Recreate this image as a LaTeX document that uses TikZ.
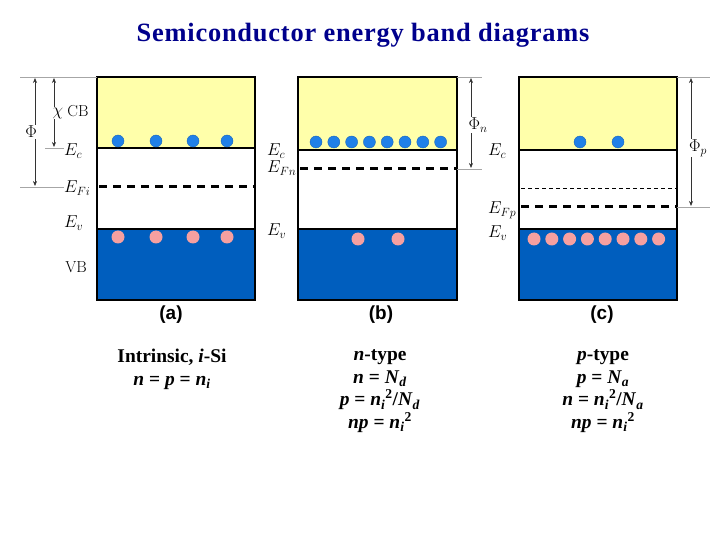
\documentclass[tikz,border=0pt]{standalone}
\usepackage{fontspec}
\newfontfamily\tnr{Liberation Serif}
\newfontfamily\tnrwide[LetterSpace=3]{Liberation Serif}
\newfontfamily\arl{Liberation Sans}
\usetikzlibrary{arrows.meta}
\definecolor{cbyellow}{RGB}{255,255,170}
\definecolor{vbblue}{RGB}{0,94,190}
\definecolor{eblue}{RGB}{32,128,232}
\definecolor{hpink}{RGB}{246,160,160}
\definecolor{titleblue}{RGB}{0,0,140}
\begin{document}
\begin{tikzpicture}[x=1bp,y=-1bp,
  cb/.style={fill=cbyellow,draw=none},
  vb/.style={fill=vbblue,draw=none},
  gap/.style={fill=white,draw=none},
  frame/.style={draw=black,line width=1.6bp},
  band/.style={draw=black,line width=1.6bp},
  fermi/.style={draw=black,line width=3bp,dash pattern=on 8bp off 6bp},
  thinfermi/.style={draw=black,line width=0.8bp,dash pattern=on 4bp off 3bp},
  guide/.style={draw=gray!70,line width=0.7bp},
  dim/.style={draw=black!80,line width=0.6bp,{Stealth[length=5bp,width=4bp]}-{Stealth[length=5bp,width=4bp]}},
  elec/.style={circle,fill=eblue,draw=eblue!80!black,line width=0.4bp,minimum size=12bp,inner sep=0pt},
  hole/.style={circle,fill=hpink,draw=none,minimum size=13bp,inner sep=0pt},
  elab/.style={font=\fontsize{17}{17}\selectfont,inner sep=0pt},
  wlab/.style={font=\fontsize{17}{17}\selectfont,fill=white,inner sep=1bp},
  rlab/.style={font=\fontsize{16}{16}\selectfont,inner sep=0pt},
  plab/.style={font=\arl\bfseries\fontsize{19}{19}\selectfont,inner sep=0pt},
  txt/.style={font=\tnr\bfseries\fontsize{19.5}{23}\selectfont,align=center,anchor=north,inner sep=0pt}
]
\useasboundingbox (0,0) rectangle (720,540);
\node[font=\tnrwide\bfseries\fontsize{26.5}{26.5}\selectfont,text=titleblue,inner sep=0pt] (title) at (363,35) {Semiconductor energy band diagrams};

% ---------- (a) ----------
\fill[cb] (97,77) rectangle (255,148);
\fill[gap] (97,148) rectangle (255,229);
\fill[vb] (97,229) rectangle (255,300);
\draw[band] (97,148) -- (255,148);
\draw[band] (97,229) -- (255,229);
\draw[fermi] (99,187) -- (255,187);
\draw[frame] (97,77) rectangle (255,300);
\foreach \x [count=\i] in {118,156,193,227}{
  \node[elec] (ea\i) at (\x,141) {};
  \node[hole] (ha\i) at (\x,237) {};
}
\coordinate (atop0) at (20,77);
\coordinate (atop1) at (97,77);
\draw[guide] (atop0) -- (atop1);
\coordinate (aec0) at (45,148);
\coordinate (aec1) at (64,148);
\draw[guide] (aec0) -- (aec1);
\coordinate (afi0) at (20,187);
\coordinate (afi1) at (64,187);
\draw[guide] (afi0) -- (afi1);
\coordinate (chiT) at (54,78);
\coordinate (chiB) at (54,147);
\draw[dim] (chiT) -- (chiB);
\coordinate (phiT) at (35,78);
\coordinate (phiB) at (35,186);
\draw[dim] (phiT) -- (phiB);
\node[wlab] (chi) at (58,113) {$\chi$};
\node[wlab] (phi) at (31,132) {$\Phi$};
\node[rlab] (CB) at (78,111) {CB};
\node[rlab] (VB) at (76,267) {VB};
\node[elab,anchor=west] (Eca) at (64,151) {$E_c$};
\node[elab,anchor=west] (Efi) at (64,188) {$E_{Fi}$};
\node[elab,anchor=west] (Eva) at (64,223) {$E_v$};
\node[plab] (la) at (171,315) {(a)};

% ---------- (b) ----------
\fill[cb] (298,77) rectangle (457,150);
\fill[gap] (298,150) rectangle (457,229);
\fill[vb] (298,229) rectangle (457,300);
\draw[band] (298,150) -- (457,150);
\draw[band] (298,229) -- (457,229);
\draw[fermi] (300,169) -- (457,169);
\draw[frame] (298,77) rectangle (457,300);
\foreach \i in {0,...,7}{
  \node[elec] (eb\i) at ({316+17.8*\i},142) {};
}
\node[hole] (hb1) at (358,239) {};
\node[hole] (hb2) at (398,239) {};
\coordinate (btop0) at (457,77);
\coordinate (btop1) at (482,77);
\draw[guide] (btop0) -- (btop1);
\coordinate (bfn0) at (457,169);
\coordinate (bfn1) at (482,169);
\draw[guide] (bfn0) -- (bfn1);
\coordinate (phinT) at (471,78);
\coordinate (phinB) at (471,168);
\draw[dim] (phinT) -- (phinB);
\node[wlab] (phin) at (478,125) {$\Phi_n$};
\node[elab,anchor=west] (Ecb) at (267,151) {$E_c$};
\node[elab,anchor=west] (Efn) at (267,168) {$E_{Fn}$};
\node[elab,anchor=west] (Evb) at (267,231) {$E_v$};
\node[plab] (lb) at (381,315) {(b)};

% ---------- (c) ----------
\fill[cb] (519,77) rectangle (677,150);
\fill[gap] (519,150) rectangle (677,229);
\fill[vb] (519,229) rectangle (677,300);
\draw[band] (519,150) -- (677,150);
\draw[band] (519,229) -- (677,229);
\draw[thinfermi] (521,188) -- (677,188);
\draw[fermi] (521,207) -- (677,207);
\draw[frame] (519,77) rectangle (677,300);
\node[elec] (ec1) at (580,142) {};
\node[elec] (ec2) at (618,142) {};
\foreach \i in {0,...,7}{
  \node[hole] (hc\i) at ({534+17.8*\i},239) {};
}
\coordinate (ctop0) at (677,77);
\coordinate (ctop1) at (710,77);
\draw[guide] (ctop0) -- (ctop1);
\coordinate (cfp0) at (677,207);
\coordinate (cfp1) at (710,207);
\draw[guide] (cfp0) -- (cfp1);
\coordinate (phipT) at (691,78);
\coordinate (phipB) at (691,206);
\draw[dim] (phipT) -- (phipB);
\node[wlab] (phip) at (698,148) {$\Phi_p$};
\node[elab,anchor=west] (Ecc) at (488,151) {$E_c$};
\node[elab,anchor=west] (Efp) at (488,210) {$E_{Fp}$};
\node[elab,anchor=west] (Evc) at (488,233) {$E_v$};
\node[plab] (lc) at (602,315) {(c)};

% ---------- texts ----------
\node[txt] (ta) at (172,349) {Intrinsic, \textit{i}-Si\\
  \textit{n} = \textit{p} = \textit{n}\textsubscript{\textit{i}}};
\node[txt] (tb) at (380,349) {\textit{n}-type\\
  \textit{n} = \textit{N}\textsubscript{\textit{d}}\\
  \textit{p} = \textit{n}\textsubscript{\textit{i}}\textsuperscript{2}/\textit{N}\textsubscript{\textit{d}}\\
  \textit{np} = \textit{n}\textsubscript{\textit{i}}\textsuperscript{2}};
\node[txt] (tc) at (603,349) {\textit{p}-type\\
  \textit{p} = \textit{N}\textsubscript{\textit{a}}\\
  \textit{n} = \textit{n}\textsubscript{\textit{i}}\textsuperscript{2}/\textit{N}\textsubscript{\textit{a}}\\
  \textit{np} = \textit{n}\textsubscript{\textit{i}}\textsuperscript{2}};
\end{tikzpicture}
\end{document}
